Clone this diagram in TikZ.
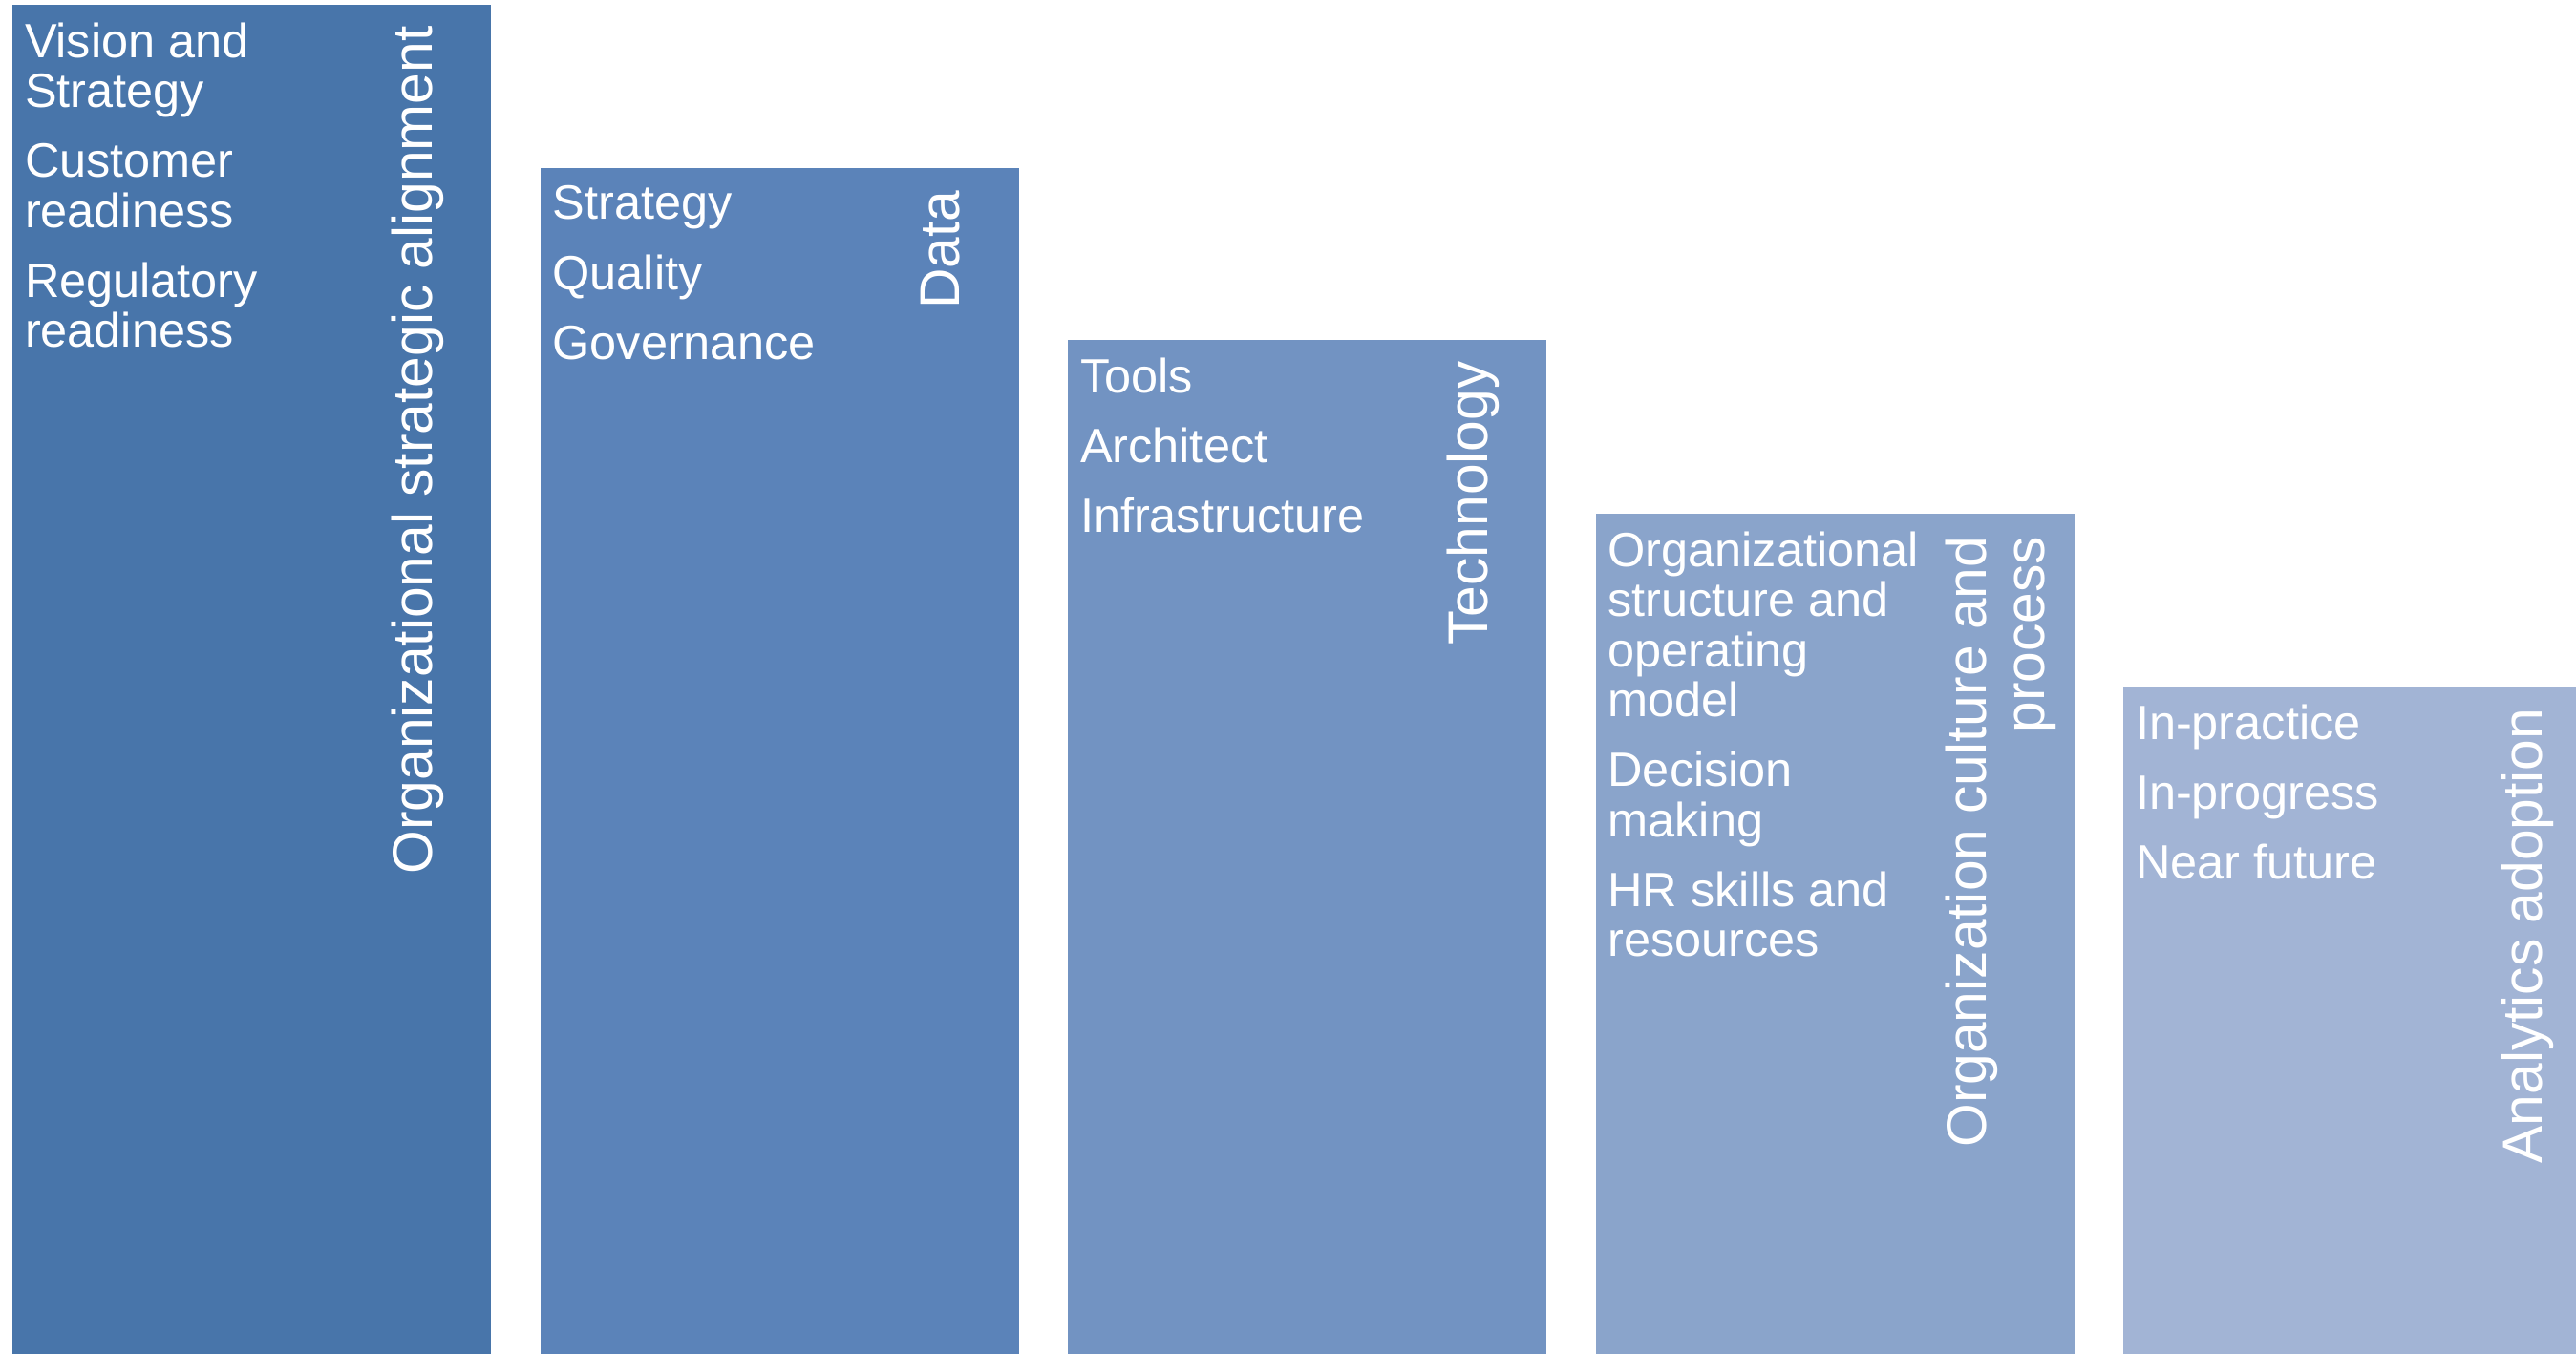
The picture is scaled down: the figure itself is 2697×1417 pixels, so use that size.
\documentclass[tikz,border=0pt]{standalone}
\usepackage{fontspec}
\setmainfont{Liberation Sans}
\usepackage{tikz}

\definecolor{pillarA}{RGB}{72,117,170}
\definecolor{pillarB}{RGB}{91,131,185}
\definecolor{pillarC}{RGB}{114,147,194}
\definecolor{pillarD}{RGB}{138,164,203}
\definecolor{pillarE}{RGB}{162,180,213}

\begin{document}
\begin{tikzpicture}[x=0.01cm,y=-0.01cm]
\tikzset{items/.style={anchor=north west,align=left,inner sep=0pt,text=white,font=\fontsize{14.35}{14.9}\selectfont},
  pillar title/.style={rotate=90,anchor=base east,align=right,inner sep=0pt,text=white,font=\fontsize{16.7}{17.36}\selectfont}}
\path[use as bounding box,clip] (0,0) rectangle (2697,1417);
\foreach \pcol/\ptop [count=\i from 0] in {pillarA/4.7,pillarB/175.7,pillarC/355.7,pillarD/538,pillarE/719}
  \fill[\pcol] (13.3+552.5*\i,\ptop) rectangle ++(501,1420);
\node[items] (osa-items) at (25.3,22.9) {Vision and\\Strategy\\[5.9pt]Customer\\readiness\\[5.9pt]Regulatory\\readiness};
\node[pillar title] (osa-title) at (452.3,26.7) {Organizational strategic alignment};
\node[items] (data-items) at (577.8,193.9) {Strategy\\[5.9pt]Quality\\[5.9pt]Governance};
\node[pillar title] (data-title) at (1004.8,198.7) {Data};
\node[items] (tech-items) at (1130.3,373.9) {Tools\\[5.9pt]Architect\\[5.9pt]Infrastructure};
\node[pillar title] (tech-title) at (1557.3,377.7) {Technology};
\node[items] (org-items) at (1682.8,556.2) {Organizational\\structure and\\operating\\model\\[5.9pt]Decision\\making\\[5.9pt]HR skills and\\resources};
\node[pillar title,anchor=east] (org-title) at (2094.5,561) {Organization culture and\\process};
\node[items] (adopt-items) at (2235.3,737.2) {In-practice\\[5.9pt]In-progress\\[5.9pt]Near future};
\node[pillar title] (adopt-title) at (2661,741) {Analytics adoption};
\end{tikzpicture}
\end{document}
